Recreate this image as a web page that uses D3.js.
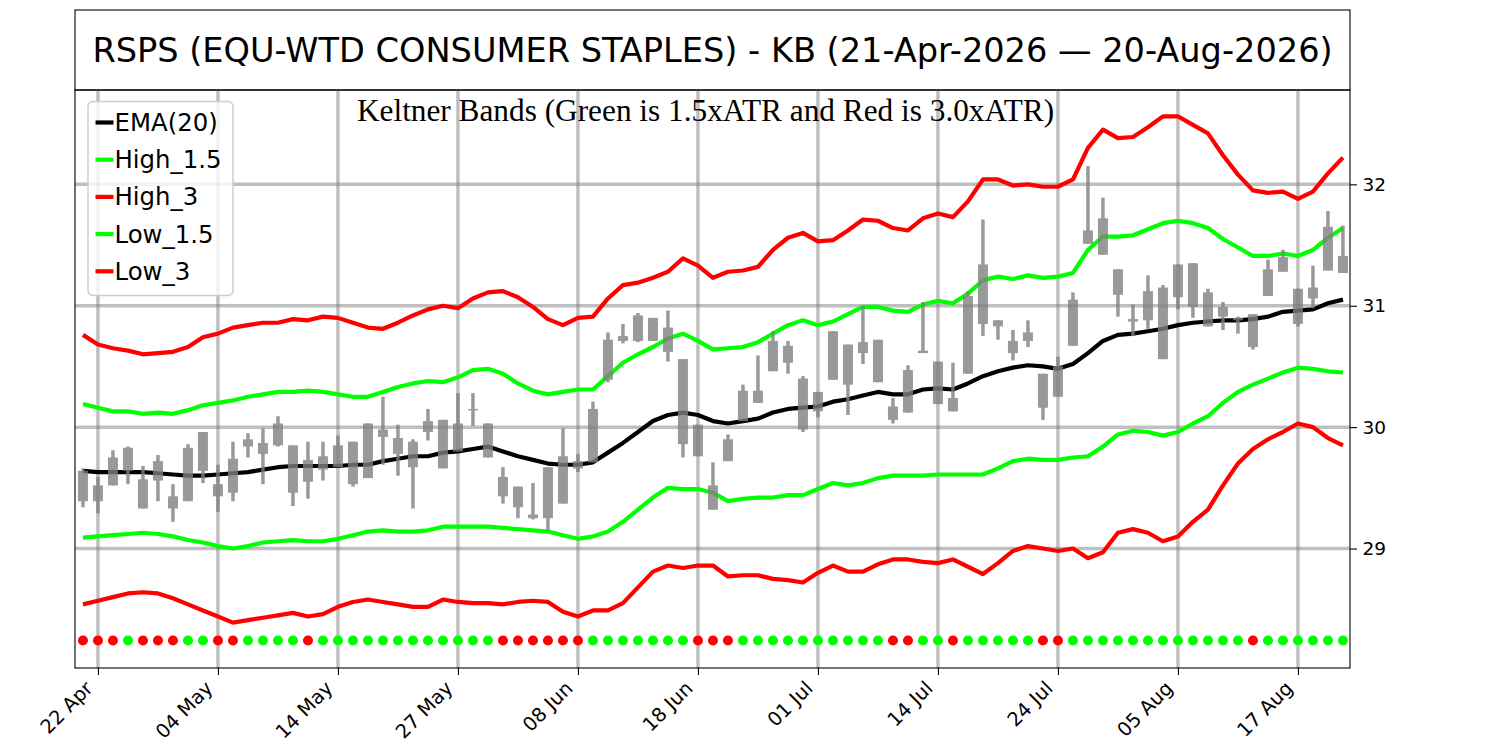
<!DOCTYPE html>
<html>
<head>
<meta charset="utf-8">
<script src="https://cdn.jsdelivr.net/npm/d3@7"></script>
<style>
  html, body { margin: 0; padding: 0; background: #fff; }
  svg { display: block; }
</style>
</head>
<body>
<svg id="chart" width="1500" height="750"></svg>
<script>
// ---------- DATA ----------
const titleText = "RSPS (EQU-WTD CONSUMER STAPLES) - KB (21-Apr-2026 \u2014 20-Aug-2026)";
const subtitleText = "Keltner Bands (Green is 1.5xATR and Red is 3.0xATR)";

const tickIndex = [1, 9, 17, 25, 33, 41, 49, 57, 65, 73, 81];
const tickLabels = ["22 Apr", "04 May", "14 May", "27 May", "08 Jun", "18 Jun",
                    "01 Jul", "14 Jul", "24 Jul", "05 Aug", "17 Aug"];
const yTicks = [29, 30, 31, 32];

const bodyTop = [
  29.64, 29.52, 29.75, 29.83, 29.57, 29.72, 29.43, 29.83, 29.96, 29.53,
  29.74, 29.90, 29.87, 30.03, 29.85, 29.73, 29.76, 29.85, 29.88, 30.03,
  29.98, 29.91, 29.88, 30.05, 30.06, 30.03, 30.15, 30.03, 29.59, 29.51,
  29.28, 29.67, 29.76, 29.72, 30.15, 30.72, 30.75, 30.92, 30.90, 30.82,
  30.56, 30.02, 29.52, 29.90, 30.30, 30.30, 30.71, 30.67, 30.40, 30.29,
  30.79, 30.68, 30.70, 30.72, 30.17, 30.47, 30.63, 30.54, 30.24, 31.08,
  31.34, 30.88, 30.71, 30.78, 30.44, 30.50, 31.05, 31.62, 31.72, 31.30,
  30.89, 31.12, 31.15, 31.34, 31.35, 31.11, 30.99, 30.90, 30.93, 31.30,
  31.40, 31.14, 31.15, 31.65, 31.41];
const bodyBottom = [
  29.39, 29.39, 29.52, 29.64, 29.33, 29.56, 29.33, 29.39, 29.64, 29.43,
  29.46, 29.84, 29.78, 29.85, 29.46, 29.55, 29.65, 29.67, 29.53, 29.58,
  29.92, 29.78, 29.67, 29.96, 29.66, 29.80, 30.14, 29.75, 29.43, 29.34,
  29.25, 29.25, 29.37, 29.66, 29.71, 30.39, 30.71, 30.71, 30.71, 30.62,
  29.86, 29.76, 29.32, 29.72, 30.05, 30.20, 30.46, 30.53, 29.98, 30.13,
  30.39, 30.35, 30.61, 30.37, 30.06, 30.12, 30.61, 30.19, 30.13, 30.44,
  30.85, 30.83, 30.61, 30.71, 30.16, 30.25, 30.67, 31.51, 31.42, 31.09,
  30.87, 30.88, 30.56, 31.07, 30.99, 30.83, 30.91, 30.88, 30.66, 31.08,
  31.28, 30.85, 31.06, 31.29, 31.27];
const highs = [
  29.66, 29.59, 29.81, 29.84, 29.68, 29.77, 29.53, 29.86, 29.96, 29.69,
  29.88, 29.95, 29.99, 30.09, 29.85, 29.88, 29.88, 29.93, 29.88, 30.03,
  30.25, 30.02, 29.90, 30.15, 30.06, 30.28, 30.28, 30.03, 29.67, 29.51,
  29.54, 29.67, 29.99, 29.78, 30.21, 30.78, 30.85, 30.94, 30.90, 30.96,
  30.56, 30.02, 29.71, 29.94, 30.35, 30.59, 30.79, 30.71, 30.42, 30.29,
  30.79, 30.68, 31.00, 30.72, 30.24, 30.51, 31.03, 30.54, 30.53, 31.12,
  31.71, 30.88, 30.80, 30.88, 30.44, 30.58, 31.11, 32.15, 31.89, 31.30,
  31.01, 31.25, 31.17, 31.34, 31.35, 31.14, 31.03, 30.91, 30.93, 31.38,
  31.46, 31.14, 31.33, 31.78, 31.66];
const lows = [
  29.34, 29.29, 29.52, 29.53, 29.33, 29.39, 29.22, 29.39, 29.54, 29.30,
  29.39, 29.75, 29.53, 29.84, 29.35, 29.41, 29.56, 29.67, 29.51, 29.58,
  29.69, 29.60, 29.33, 29.89, 29.66, 29.80, 30.01, 29.75, 29.37, 29.25,
  29.24, 29.15, 29.37, 29.63, 29.71, 30.37, 30.69, 30.70, 30.71, 30.54,
  29.75, 29.76, 29.32, 29.72, 30.05, 30.20, 30.46, 30.44, 29.96, 30.08,
  30.39, 30.10, 30.52, 30.37, 30.03, 30.12, 30.61, 30.19, 30.13, 30.44,
  30.75, 30.72, 30.55, 30.66, 30.06, 30.25, 30.67, 31.51, 31.42, 30.91,
  30.75, 30.81, 30.56, 30.97, 30.90, 30.83, 30.80, 30.77, 30.64, 31.08,
  31.28, 30.83, 30.98, 31.29, 31.27];

const ema20 = [
  29.64, 29.63, 29.63, 29.63, 29.63, 29.62, 29.61, 29.60, 29.60, 29.61,
  29.62, 29.63, 29.65, 29.67, 29.68, 29.68, 29.68, 29.68, 29.69, 29.69,
  29.72, 29.74, 29.76, 29.76, 29.79, 29.80, 29.82, 29.84, 29.80, 29.76,
  29.73, 29.70, 29.69, 29.69, 29.71, 29.79, 29.87, 29.96, 30.05, 30.10,
  30.12, 30.10, 30.05, 30.03, 30.05, 30.07, 30.12, 30.15, 30.16, 30.17,
  30.21, 30.23, 30.26, 30.29, 30.27, 30.27, 30.31, 30.32, 30.31, 30.36,
  30.42, 30.46, 30.49, 30.51, 30.50, 30.48, 30.52, 30.61, 30.71, 30.76,
  30.77, 30.79, 30.81, 30.84, 30.86, 30.87, 30.88, 30.88, 30.89, 30.91,
  30.95, 30.96, 30.97, 31.02, 31.05];
const high15 = [
  30.19, 30.16, 30.13, 30.13, 30.11, 30.12, 30.11, 30.14, 30.18, 30.20,
  30.22, 30.25, 30.27, 30.29, 30.29, 30.30, 30.29, 30.27, 30.25, 30.25,
  30.29, 30.33, 30.36, 30.38, 30.37, 30.41, 30.47, 30.48, 30.44, 30.36,
  30.30, 30.27, 30.29, 30.31, 30.31, 30.42, 30.53, 30.60, 30.66, 30.73,
  30.77, 30.71, 30.64, 30.65, 30.66, 30.70, 30.77, 30.84, 30.88, 30.84,
  30.87, 30.93, 30.99, 30.99, 30.96, 30.95, 31.01, 31.04, 31.02, 31.10,
  31.21, 31.24, 31.22, 31.25, 31.23, 31.24, 31.27, 31.46, 31.57, 31.57,
  31.58, 31.63, 31.68, 31.70, 31.68, 31.64, 31.55, 31.48, 31.41, 31.41,
  31.43, 31.41, 31.46, 31.56, 31.64];
const high3 = [
  30.76, 30.68, 30.65, 30.63, 30.60, 30.61, 30.62, 30.66, 30.74, 30.77,
  30.82, 30.84, 30.86, 30.86, 30.89, 30.88, 30.91, 30.90, 30.86, 30.82,
  30.81, 30.86, 30.92, 30.97, 31.00, 30.98, 31.06, 31.11, 31.12, 31.07,
  30.99, 30.89, 30.84, 30.90, 30.91, 31.06, 31.17, 31.19, 31.23, 31.28,
  31.39, 31.33, 31.23, 31.28, 31.29, 31.32, 31.46, 31.56, 31.60, 31.53,
  31.54, 31.62, 31.71, 31.70, 31.64, 31.62, 31.72, 31.76, 31.73, 31.86,
  32.04, 32.04, 31.99, 32.00, 31.98, 31.98, 32.04, 32.30, 32.45, 32.38,
  32.39, 32.47, 32.56, 32.56, 32.49, 32.42, 32.24, 32.08, 31.95, 31.93,
  31.94, 31.88, 31.94, 32.09, 32.22];
const low15 = [
  29.09, 29.10, 29.11, 29.12, 29.13, 29.12, 29.10, 29.07, 29.05, 29.02,
  29.00, 29.02, 29.05, 29.06, 29.07, 29.06, 29.06, 29.08, 29.11, 29.14,
  29.15, 29.14, 29.14, 29.15, 29.18, 29.18, 29.18, 29.18, 29.17, 29.16,
  29.15, 29.14, 29.11, 29.08, 29.10, 29.14, 29.22, 29.32, 29.42, 29.50,
  29.49, 29.49, 29.46, 29.39, 29.41, 29.42, 29.42, 29.44, 29.44, 29.49,
  29.54, 29.52, 29.54, 29.58, 29.60, 29.60, 29.60, 29.61, 29.61, 29.61,
  29.61, 29.66, 29.72, 29.74, 29.73, 29.73, 29.75, 29.76, 29.84, 29.94,
  29.97, 29.96, 29.93, 29.96, 30.03, 30.09, 30.20, 30.29, 30.35, 30.40,
  30.45, 30.49, 30.48, 30.46, 30.45];
const low3 = [
  28.54, 28.57, 28.60, 28.63, 28.64, 28.63, 28.59, 28.54, 28.49, 28.44,
  28.39, 28.41, 28.43, 28.45, 28.47, 28.44, 28.46, 28.52, 28.56, 28.58,
  28.56, 28.54, 28.52, 28.52, 28.58, 28.56, 28.55, 28.55, 28.54, 28.56,
  28.57, 28.56, 28.48, 28.44, 28.49, 28.49, 28.55, 28.68, 28.81, 28.86,
  28.84, 28.86, 28.86, 28.77, 28.78, 28.78, 28.75, 28.74, 28.72, 28.80,
  28.86, 28.81, 28.81, 28.87, 28.91, 28.91, 28.89, 28.88, 28.91, 28.85,
  28.79, 28.88, 28.98, 29.02, 29.00, 28.98, 29.00, 28.92, 28.97, 29.13,
  29.16, 29.13, 29.06, 29.10, 29.22, 29.32, 29.52, 29.70, 29.82, 29.90,
  29.96, 30.03, 30.00, 29.91, 29.85];

// 1 = green signal, 0 = red signal
const signal = [
  0,0,0,1,0,0,0,1,1,0,
  0,1,1,1,1,0,1,1,1,1,
  1,1,1,1,1,1,1,1,0,0,
  0,0,0,0,1,1,1,1,1,1,
  1,0,0,0,1,1,1,1,1,1,
  1,1,1,1,0,0,1,1,0,1,
  1,1,1,1,0,0,1,1,1,1,
  1,1,1,1,1,1,1,1,0,1,
  1,1,1,1,1];
const signalLevel = 28.243;

const seriesNames = ["EMA(20)", "High_1.5", "High_3", "Low_1.5", "Low_3"];

// ---------- LAYOUT ----------
const plot = { left: 75, right: 1350, top: 90, bottom: 668 };
const titleBox = { top: 10, bottom: 90 };

const svg = d3.select("#chart");

const n = ema20.length;
const x = d3.scaleLinear().domain([-0.53, n - 0.53]).range([plot.left, plot.right]);
const y = d3.scaleLinear().domain([28.016, 32.777]).range([plot.bottom, plot.top]);

const colorOf = { "EMA(20)": "#000000", "High_1.5": "#00ff00", "High_3": "#ff0000",
                  "Low_1.5": "#00ff00", "Low_3": "#ff0000" };
const seriesData = { "EMA(20)": ema20, "High_1.5": high15, "High_3": high3,
                     "Low_1.5": low15, "Low_3": low3 };

// title box
svg.append("rect")
  .attr("x", plot.left).attr("y", titleBox.top)
  .attr("width", plot.right - plot.left).attr("height", titleBox.bottom - titleBox.top)
  .attr("fill", "#fff").attr("stroke", "#000").attr("stroke-width", 1.1);
svg.append("text")
  .attr("x", (plot.left + plot.right) / 2).attr("y", 62)
  .attr("text-anchor", "middle")
  .attr("font-family", "DejaVu Sans, sans-serif").attr("font-size", 33.6)
  .text(titleText);

// clip for plot
svg.append("defs").append("clipPath").attr("id", "plotclip")
  .append("rect").attr("x", plot.left).attr("y", plot.top)
  .attr("width", plot.right - plot.left).attr("height", plot.bottom - plot.top);

const g = svg.append("g").attr("clip-path", "url(#plotclip)");

// grid
g.selectAll("line.vgrid").data(tickIndex).join("line")
  .attr("class", "vgrid")
  .attr("x1", d => x(d)).attr("x2", d => x(d))
  .attr("y1", plot.top).attr("y2", plot.bottom)
  .attr("stroke", "#808080").attr("stroke-opacity", 0.5).attr("stroke-width", 3.5);
g.selectAll("line.hgrid").data(yTicks).join("line")
  .attr("class", "hgrid")
  .attr("x1", plot.left).attr("x2", plot.right)
  .attr("y1", d => y(d)).attr("y2", d => y(d))
  .attr("stroke", "#808080").attr("stroke-opacity", 0.5).attr("stroke-width", 3.5);

// lines
const line = d3.line().x((d, i) => x(i)).y(d => y(d));
["High_1.5", "High_3", "Low_1.5", "Low_3", "EMA(20)"].forEach(name => {
  g.append("path")
    .datum(seriesData[name])
    .attr("d", line)
    .attr("fill", "none")
    .attr("stroke", colorOf[name])
    .attr("stroke-width", 4.2)
    .attr("stroke-linejoin", "round");
});

// candles
const idx = d3.range(n);
const candles = g.append("g").attr("opacity", 0.8);
candles.selectAll("line.wick").data(idx).join("line")
  .attr("class", "wick")
  .attr("x1", i => x(i)).attr("x2", i => x(i))
  .attr("y1", i => y(highs[i])).attr("y2", i => y(lows[i]))
  .attr("stroke", "#808080").attr("stroke-width", 3.5);
candles.selectAll("rect.body").data(idx).join("rect")
  .attr("class", "body")
  .attr("x", i => x(i) - 5)
  .attr("width", 10)
  .attr("y", i => y(Math.max(bodyTop[i], bodyBottom[i])))
  .attr("height", i => Math.max(1.5, Math.abs(y(bodyTop[i]) - y(bodyBottom[i]))))
  .attr("fill", "#808080");

// signal dots
g.selectAll("circle.sig").data(idx).join("circle")
  .attr("class", "sig")
  .attr("cx", i => x(i)).attr("cy", y(signalLevel))
  .attr("r", 5)
  .attr("fill", i => signal[i] ? "#00ff00" : "#ff0000");

// subtitle
svg.append("text")
  .attr("x", 705.5).attr("y", 120.5)
  .attr("text-anchor", "middle")
  .attr("font-family", "Liberation Serif, Times New Roman, serif").attr("font-size", 31.3)
  .text(subtitleText);

// frame
svg.append("rect")
  .attr("x", plot.left).attr("y", plot.top)
  .attr("width", plot.right - plot.left).attr("height", plot.bottom - plot.top)
  .attr("fill", "none").attr("stroke", "#000").attr("stroke-width", 1.1);

// x axis
const xAxis = d3.axisBottom(x)
  .tickValues(tickIndex)
  .tickFormat((d, i) => tickLabels[i])
  .tickSize(7).tickSizeOuter(0);
const xg = svg.append("g").attr("transform", `translate(0,${plot.bottom})`).call(xAxis);
xg.select(".domain").remove();
xg.selectAll(".tick line").attr("stroke", "#000").attr("stroke-width", 1.1);
xg.selectAll(".tick text")
  .attr("font-family", "DejaVu Sans, sans-serif").attr("font-size", 19.4)
  .attr("fill", "#000")
  .attr("text-anchor", "end")
  .attr("dy", null).attr("y", null)
  .attr("transform", "translate(-4.5,21.5) rotate(-45)");

// y axis (right)
const yAxis = d3.axisRight(y).tickValues(yTicks).tickFormat(d3.format("d")).tickSize(7).tickSizeOuter(0);
const yg = svg.append("g").attr("transform", `translate(${plot.right},0)`).call(yAxis);
yg.select(".domain").remove();
yg.selectAll(".tick line").attr("stroke", "#000").attr("stroke-width", 1.1);
yg.selectAll(".tick text")
  .attr("font-family", "DejaVu Sans, sans-serif").attr("font-size", 18.5)
  .attr("fill", "#000").attr("x", 12.5);

// legend
const legend = svg.append("g");
legend.append("rect")
  .attr("x", 88).attr("y", 101.5).attr("width", 145).attr("height", 194)
  .attr("rx", 5).attr("ry", 5)
  .attr("fill", "#fff").attr("fill-opacity", 0.8)
  .attr("stroke", "#cccccc").attr("stroke-width", 1.4);
seriesNames.forEach((name, k) => {
  const cy = 122.5 + k * 37.2;
  legend.append("line")
    .attr("x1", 95.5).attr("x2", 113.5).attr("y1", cy).attr("y2", cy)
    .attr("stroke", colorOf[name]).attr("stroke-width", 4.2);
  legend.append("text")
    .attr("x", 114.5).attr("y", cy + 8.5)
    .attr("font-family", "DejaVu Sans, sans-serif").attr("font-size", 24.4)
    .attr("fill", "#000")
    .text(name);
});
</script>
</body>
</html>
